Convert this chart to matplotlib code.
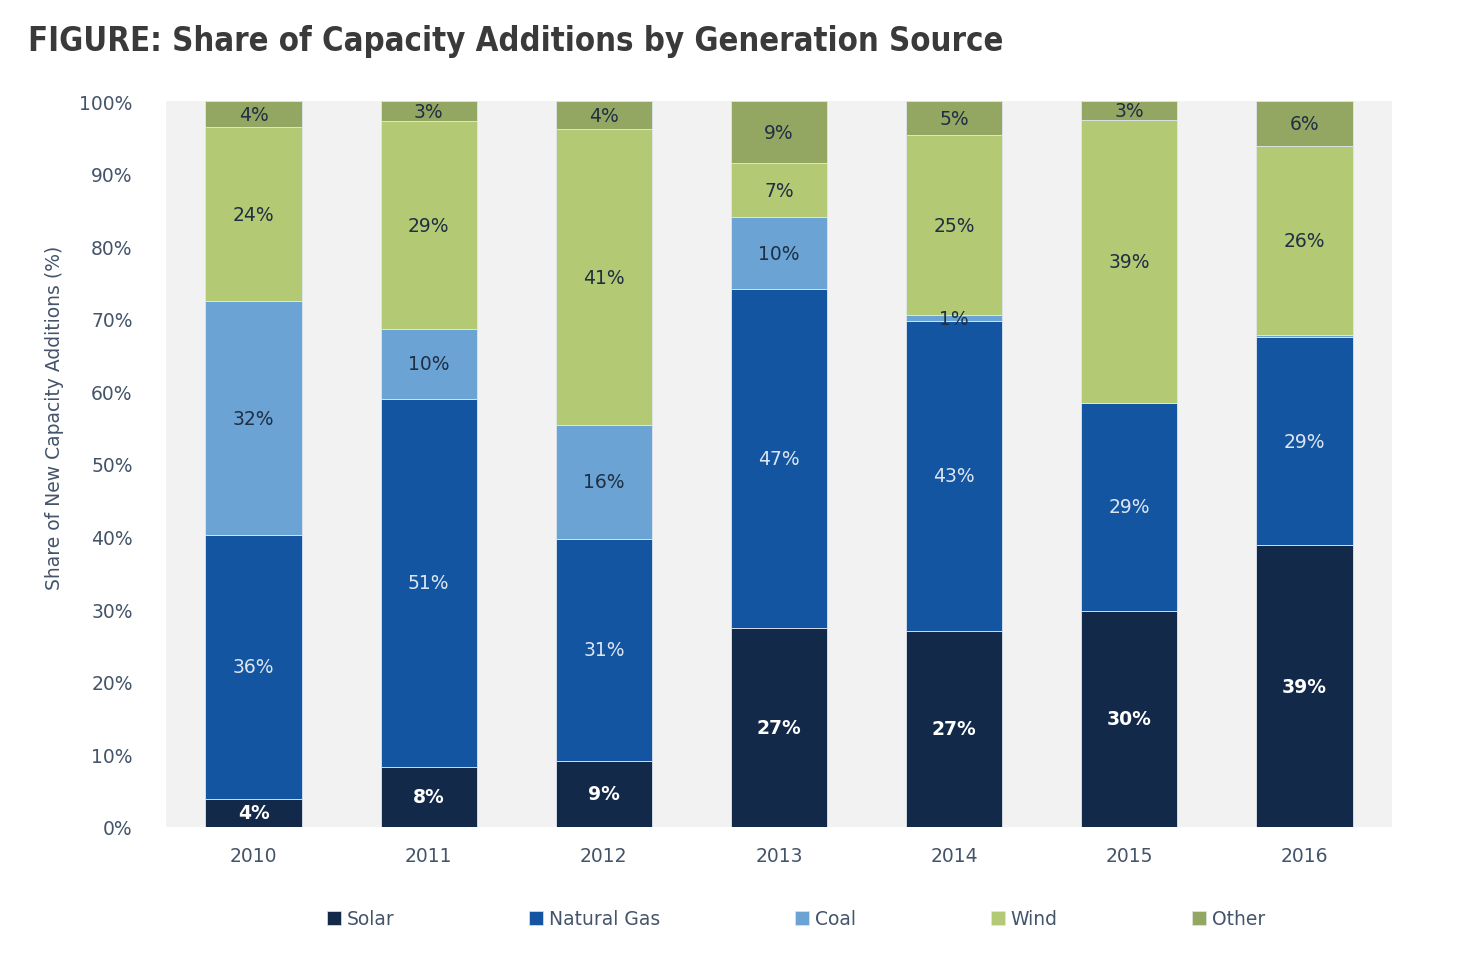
import matplotlib
matplotlib.use("Agg")
import matplotlib.pyplot as plt
from matplotlib.patches import Patch
import numpy as np

years = ["2010", "2011", "2012", "2013", "2014", "2015", "2016"]
series_names = ["Solar", "Natural Gas", "Coal", "Wind", "Other"]
solar = [3.9, 8.3, 9.1, 27.4, 27.0, 29.8, 38.8]
natural_gas = [36.3, 50.7, 30.6, 46.7, 42.7, 28.6, 28.7]
coal = [32.2, 9.6, 15.7, 9.9, 0.8, 0.0, 0.3]
wind = [24.0, 28.6, 40.7, 7.4, 24.8, 39.0, 26.0]
other = [3.6, 2.8, 3.9, 8.6, 4.7, 2.6, 6.2]
yticks = [0, 10, 20, 30, 40, 50, 60, 70, 80, 90, 100]

colors = ["#12294a", "#1455a2", "#6ba3d4", "#b3c973", "#94a762"]
label_colors = ["white", "#dde6f0", "#1f2f44", "#1f2f44", "#1f2f44"]
tick_color = "#44546a"

fig = plt.figure(figsize=(14.58, 9.54), dpi=100)
ax = fig.add_axes([166 / 1458, 1 - 828 / 954, (1392 - 166) / 1458, (828 - 102) / 954])
ax.set_facecolor("#f2f2f2")

x = np.arange(len(years))
bottom = np.zeros(len(years))
data = [solar, natural_gas, coal, wind, other]
for i, (name, vals) in enumerate(zip(series_names, data)):
    vals = np.array(vals)
    ax.bar(x, vals, width=0.55, bottom=bottom, color=colors[i],
           edgecolor="#dfe6ee", linewidth=0.6, label=name, zorder=2)
    for xi, b, v in zip(x, bottom, vals):
        if v >= 0.5:
            lc = label_colors[i]
            if i == 2 and v < 2:
                lc = "#1f2f44"
            ax.text(xi, b + v / 2, f"{v:.0f}%", ha="center", va="center",
                    fontsize=13.5, color=lc,
                    fontweight="bold" if i == 0 else "normal", zorder=3)
    bottom += vals

ax.set_xlim(-0.5, len(years) - 0.5)
ax.set_ylim(0, 100)
ax.set_xticks(x)
ax.set_xticklabels(years)
ax.set_yticks(yticks)
ax.set_yticklabels([f"{t}%" for t in yticks])
ax.tick_params(axis="both", length=0, colors=tick_color, labelsize=13.5)
ax.tick_params(axis="x", pad=14)
ax.tick_params(axis="y", pad=24)
for s in ax.spines.values():
    s.set_visible(False)

fig.text(55 / 1458, 1 - 418 / 954, "Share of New Capacity Additions (%)",
         rotation=90, ha="center", va="center", fontsize=13.5, color=tick_color)

fig.text(28 / 1458, 1 - 42 / 954, "FIGURE: Share of Capacity Additions by Generation Source",
         ha="left", va="center", fontsize=23.6, fontweight="bold",
         fontstretch="condensed", color="#3a3a3a")

handles = [Patch(facecolor=c, edgecolor="#dfe6ee", linewidth=0.5) for c in colors]
fig.legend(handles, series_names, loc="center", bbox_to_anchor=(0.5459, 1 - 920 / 954),
           ncol=5, frameon=False, fontsize=13.5, handlelength=0.75, handleheight=0.75,
           handletextpad=0.3, columnspacing=7.2, labelcolor=tick_color)

fig.savefig("out.png", dpi=100)
